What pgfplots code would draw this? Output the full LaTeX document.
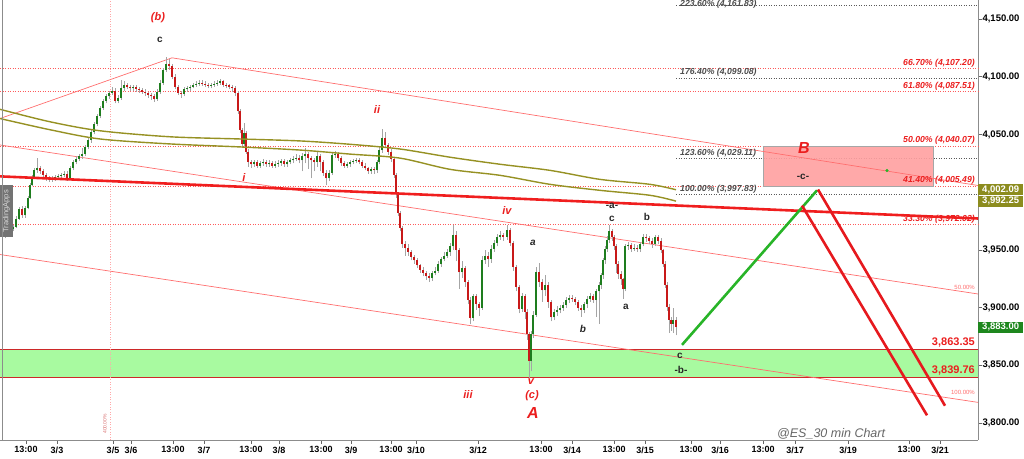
\documentclass[border=0pt]{standalone}
\usepackage{fontspec}
\setmainfont{Liberation Sans}
\usepackage{pgfplots}
\pgfplotsset{compat=1.18}
\usepackage{pgfplotstable}

\definecolor{cgreen}{RGB}{30,125,30}
\definecolor{cred}{RGB}{200,25,25}
\definecolor{wick}{RGB}{165,165,165}
\definecolor{olive1}{RGB}{150,145,35}
\definecolor{pinkline}{RGB}{255,110,110}
\definecolor{thickred}{RGB}{240,30,30}
\definecolor{fibred}{RGB}{255,90,90}
\definecolor{fibgray}{RGB}{90,90,90}
\definecolor{bandgreen}{RGB}{168,250,160}
\definecolor{bandred}{RGB}{205,40,40}
\definecolor{rectpink}{RGB}{255,160,160}
\definecolor{projgreen}{RGB}{40,180,40}
\definecolor{projred}{RGB}{230,25,30}
\definecolor{labelred}{RGB}{235,30,30}
\definecolor{olivebox}{RGB}{140,140,30}
\definecolor{greenbox}{RGB}{30,135,30}

\pgfplotstableread{
x o h l c
5 3963 3968 3960 3966
9 3966 3971 3964 3968.5
13 3968.5 3972 3966 3970
16 3970 3979 3969 3977
19 3977 3987 3976 3985
22 3985 3988 3978 3980
25 3980 3988 3978 3986
28 3986 3997 3985 3995
30 3995 4008 3994 4006
32 4006 4015 4005 4013
34 4013 4021 4012 4019
37 4019 4030 4017 4021
40 4021 4023 4016 4018
43 4018 4020 4013 4015
46 4015 4017 4010 4012
49 4012 4014 4009 4011
52 4011 4014 4009 4012
55 4012 4015 4010 4013
58 4013 4016 4011 4014
61 4014 4017 4012 4015
64 4015 4018 4013 4016
67 4016 4018 4010 4012
70 4012 4023 4011 4021
73 4021 4028 4019 4026
76 4026 4031 4024 4029
79 4029 4033 4027 4031
82 4031 4038 4029 4033
85 4033 4041 4031 4039
88 4039 4047 4037 4045
91 4045 4054 4043 4052
94 4052 4061 4050 4059
97 4059 4068 4057 4066
100 4066 4075 4064 4073
103 4073 4081 4071 4079
106 4079 4085 4077 4083
109 4083 4088 4081 4086
112 4086 4091 4084 4088
115 4088 4090 4077 4079
118 4079 4084 4077 4082
121 4082 4097 4080 4090
124 4090 4096 4088 4093
127 4093 4095 4089 4091
130 4091 4093 4088 4090
133 4090 4093 4088 4091
136 4091 4093 4087 4089.5
139 4089.5 4091 4086 4088.5
142 4088.5 4090 4085 4087
145 4087 4089 4083 4085.5
148 4085.5 4087 4082 4084.5
151 4084.5 4086 4080 4083
154 4083 4085 4078 4080.5
157 4080.5 4089 4079 4087
160 4087 4097 4085 4095
163 4095 4108 4093 4106
166 4106 4117 4104 4111
169 4111 4115 4106 4109
172 4109 4111 4098 4100
175 4100 4102 4089 4091
178 4091 4093 4084 4086
181 4086 4088 4082 4085
184 4085 4091 4083 4089
187 4089 4092 4087 4090
190 4090 4093 4088 4091.5
193 4091.5 4095 4090 4093
196 4093 4096 4091 4094
199 4094 4097 4092 4095
202 4095 4097 4092 4094
205 4094 4096 4091 4093
208 4093 4095 4090 4092
211 4092 4095 4090 4093
214 4093 4096 4091 4094
217 4094 4097 4092 4095
220 4095 4098 4093 4096
223 4096 4097 4091 4093
226 4093 4095 4090 4092.5
229 4092.5 4094 4089 4091
232 4091 4093 4087 4090
235 4090 4092 4083 4086
238 4086 4088 4068 4070
240 4070 4072 4051 4054
242 4054 4056 4039 4042
244 4042 4060 4040 4051
246 4051 4053 4033 4035
248 4035 4037 4022 4026
251 4026 4028 4021 4024
254 4024 4028 4022 4026
257 4026 4028 4021 4023
260 4023 4027 4021 4025
263 4025 4029 4023 4026.5
266 4026.5 4028 4022 4024
269 4024 4028 4022 4025.5
272 4025.5 4027 4021 4023
275 4023 4027 4021 4024.5
278 4024.5 4028 4022 4025.5
281 4025.5 4029 4023 4027
284 4027 4029 4022 4024
287 4024 4028 4022 4026
290 4026 4030 4024 4027.5
293 4027.5 4031 4025 4029
296 4029 4033 4027 4030
299 4030 4032 4025 4027.5
302 4027.5 4034 4018 4031
305 4031 4038 4025 4033
308 4033 4035 4020 4029.5
311 4029.5 4031 4012 4027.5
314 4027.5 4030 4018 4026
317 4026 4036 4022 4031
320 4031 4033 4018 4026
323 4026 4028 4014 4017
326 4017 4019 4006 4012
329 4012 4019 4010 4017
332 4017 4034 4015 4032
335 4032 4036 4030 4033.5
338 4033.5 4035 4027 4029.5
341 4029.5 4031 4023 4025
344 4025 4027 4021 4023
347 4023 4026 4021 4024.5
350 4024.5 4028 4022 4026
353 4026 4029 4024 4027
356 4027 4030 4025 4028
359 4028 4029.5 4024 4026
362 4026 4027.5 4021 4023
365 4023 4025 4019 4021
368 4021 4022 4016 4018
371 4018 4022 4016 4020
374 4020 4022 4016 4019
377 4019 4028 4017 4026
379 4026 4039 4024 4036.5
382 4036.5 4055 4034 4047
385 4047 4052 4039 4041
388 4041 4043 4032 4035
391 4035 4037 4026 4028.5
394 4028.5 4030 4012 4015
396 4015 4017 3995 3998
398 3998 4000 3979 3982
400 3982 3984 3966 3969
402 3969 3971 3952 3955
405 3955 3958 3945 3952
408 3952 3955 3945 3948.5
411 3948.5 3950 3941 3944
414 3944 3946 3938 3941
417 3941 3943 3934 3936.5
420 3936.5 3938 3930 3933
423 3933 3935 3927 3930
426 3930 3932 3924 3927
429 3927 3930 3922 3925.5
432 3925.5 3932 3923 3930
435 3930 3935 3928 3932
438 3932 3940 3930 3937.5
441 3937.5 3944 3935 3942
444 3942 3948 3940 3945
447 3945 3951 3943 3948
450 3948 3956 3945 3953
453 3953 3972 3950 3963
456 3963 3966 3940 3950
459 3950 3952 3916 3930.5
462 3930.5 3940 3926 3934
465 3934 3936 3918 3922
468 3922 3924 3903 3907
470 3907 3909 3885.5 3891
473 3891 3912 3888 3910
476 3910 3912 3898 3903
479 3903 3905 3893 3900
482 3900 3945 3898 3941
485 3941 3950 3938 3945
488 3945 3948 3935 3942
491 3942 3954 3939 3951
494 3951 3959 3948 3956
497 3956 3964 3953 3961.5
500 3961.5 3966 3959 3963
503 3963 3965 3958 3961.5
507 3961.5 3972 3959 3967.5
510 3967.5 3969 3953 3956
513 3956 3958 3932 3935
516 3935 3937 3914 3918
519 3918 3920 3895 3899
522 3899 3913 3896 3910
525 3910 3912 3890 3896.5
527 3896.5 3899 3872 3877
529 3877 3879 3839 3854
531 3854 3880 3845 3877
533 3877 3897 3874 3894
536 3894 3935 3892 3930.5
539 3930.5 3939 3918 3922
542 3922 3925 3905 3915
545 3915 3928 3910 3919.5
548 3919.5 3922 3900 3905
551 3905 3907 3888 3891.5
554 3891.5 3899 3889 3896.5
557 3896.5 3901 3893 3898
560 3898 3902 3895 3899.5
563 3899.5 3905 3897 3902.5
566 3902.5 3909 3900 3906.5
569 3906.5 3911 3904 3908.5
572 3908.5 3911 3905 3907.5
575 3907.5 3909 3902 3905
578 3905 3907 3897 3900
581 3900 3902 3892 3898
584 3898 3905 3895 3903
587 3903 3910 3900 3907.5
590 3907.5 3913 3905 3910
593 3910 3912 3904 3906.5
596 3906.5 3916 3892 3914
599 3914 3922 3886 3919.5
601 3919.5 3930 3916 3928
603 3928 3943 3925 3941
605 3941 3953 3938 3950.5
607 3950.5 3962 3948 3959
609 3959 3972 3956 3966.5
612 3966.5 3968 3958 3961.5
614 3961.5 3963 3950 3953
616 3953 3955 3930 3937.5
618 3937.5 3940 3925 3929
621 3929 3932 3920 3924.5
623 3924.5 3926 3907.5 3916
625 3916 3955 3914 3953
628 3953 3957 3950 3954.5
631 3954.5 3956 3948 3950.5
634 3950.5 3955 3949 3952
637 3952 3954 3948 3950.5
640 3950.5 3957 3948 3955
643 3955 3964 3953 3961.5
646 3961.5 3964 3957 3960
649 3960 3962 3955 3958
652 3958 3960 3952 3955
655 3955 3963 3953 3961
658 3961 3962.5 3955 3958
661 3958 3960 3947 3949.5
663 3949.5 3951 3935 3937.5
665 3937.5 3940 3917 3920
667 3920 3922 3897 3900.5
669 3900.5 3903 3878 3889.5
671 3889.5 3892 3880 3886
673 3886 3900 3878 3889.5
676 3889.5 3892 3876 3883
}\candles

\begin{document}
\begin{tikzpicture}
\useasboundingbox (0,-18pt) rectangle (1024pt,440pt);
\begin{axis}[
  at={(0,0)}, anchor=south west,
  scale only axis, width=978pt, height=440pt,
  xmin=0, xmax=978,
  ymin=3785.3, ymax=4166.5,
  axis x line*=bottom, axis y line*=right,
  axis line style={draw=black!45, line width=0.8pt},
  clip=false,
  xtick={26,57,113,131,173,204,251,279,321,351,391,416,478,541,572,614,645,691,720,763,795,848,909,940},
  xticklabels={13:00,3/3,3/5,3/6,13:00,3/7,13:00,3/8,13:00,3/9,13:00,3/10,3/12,13:00,3/14,13:00,3/15,13:00,3/16,13:00,3/17,3/19,13:00,3/21},
  ytick={3800,3850,3900,3950,4050,4100,4150},
  yticklabels={{3,800.00},{3,850.00},{3,900.00},{3,950.00},{4,050.00},{4,100.00},{4,150.00}},
  yminorticks=false, xminorticks=false,
  tick align=outside, major tick length=4pt,
  tick style={black!60, line width=0.6pt},
  xticklabel style={font=\bfseries\fontsize{9}{10}\selectfont, yshift=1pt},
  yticklabel style={font=\bfseries\fontsize{9.5}{10}\selectfont, xshift=-3pt},
]
% green support band
\addplot[fill=bandgreen, draw=none] coordinates {(0,3839.76) (978,3839.76) (978,3863.35) (0,3863.35)} -- cycle;
\addplot[bandred, line width=1pt] coordinates {(0,3863.35) (978,3863.35)};
\addplot[bandred, line width=1pt] coordinates {(0,3839.76) (978,3839.76)};
% vertical dotted
\addplot[pinkline!60, dash pattern=on 1pt off 1.5pt, line width=0.5pt] coordinates {(110,3785.3) (110,4166.5)};
% red fib retracements
\addplot[fibred, dash pattern=on 1pt off 1.5pt, line width=0.6pt] coordinates {(0,4107.20) (978,4107.20)};
\addplot[fibred, dash pattern=on 1pt off 1.5pt, line width=0.6pt] coordinates {(0,4087.51) (978,4087.51)};
\addplot[fibred, dash pattern=on 1pt off 1.5pt, line width=0.6pt] coordinates {(0,4040.07) (978,4040.07)};
\addplot[fibred, dash pattern=on 1pt off 1.5pt, line width=0.6pt] coordinates {(0,4005.49) (978,4005.49)};
\addplot[fibred, dash pattern=on 1pt off 1.5pt, line width=0.6pt] coordinates {(0,3972.02) (978,3972.02)};
% grey fib extensions
\addplot[fibgray, dash pattern=on 1pt off 1.5pt, line width=0.6pt] coordinates {(676,4161.83) (978,4161.83)};
\addplot[fibgray, dash pattern=on 1pt off 1.5pt, line width=0.6pt] coordinates {(676,4099.08) (978,4099.08)};
\addplot[fibgray, dash pattern=on 1pt off 1.5pt, line width=0.6pt] coordinates {(676,4029.11) (978,4029.11)};
\addplot[fibgray, dash pattern=on 1pt off 1.5pt, line width=0.6pt] coordinates {(676,3997.83) (978,3997.83)};
% B zone rectangle
\addplot[fill=rectpink, fill opacity=0.9, draw=black!35, line width=0.5pt] coordinates {(763,4005.49) (933,4005.49) (933,4040.07) (763,4040.07)} -- cycle;
% channel lines
\addplot[pinkline, line width=0.7pt] coordinates {(0,4063.8) (172,4116.4) (978,4005.8)};
\addplot[pinkline, line width=0.7pt] coordinates {(0,4040.9) (978,3911.8)};
\addplot[pinkline, line width=0.7pt] coordinates {(0,3946.0) (978,3817.9)};
% candles: wicks, up bodies, down bodies
\addplot[draw=none, mark=none,
  error bars/y dir=plus, error bars/y explicit, error bars/error mark=none,
  error bars/error bar style={draw=wick, line width=0.6pt}]
  table[x=x, y=l, y error plus expr=\thisrow{h}-\thisrow{l}] {\candles};
\addplot[draw=none, mark=none,
  restrict expr to domain={\thisrow{c}-\thisrow{o}}{0.01:1000},
  error bars/y dir=plus, error bars/y explicit, error bars/error mark=none,
  error bars/error bar style={draw=cgreen, line width=2.2pt}]
  table[x=x, y=o, y error plus expr=\thisrow{c}-\thisrow{o}] {\candles};
\addplot[draw=none, mark=none,
  restrict expr to domain={\thisrow{o}-\thisrow{c}}{0.01:1000},
  error bars/y dir=plus, error bars/y explicit, error bars/error mark=none,
  error bars/error bar style={draw=cred, line width=2.2pt}]
  table[x=x, y=c, y error plus expr=\thisrow{o}-\thisrow{c}] {\candles};
% moving averages
\addplot[olive1, line width=1.4pt, smooth] coordinates {(0,4071.8) (50,4061) (100,4053.2) (170,4048) (240,4046.1) (300,4044.4) (350,4041.5) (400,4037.4) (450,4030.3) (500,4024.2) (550,4018.9) (600,4011.1) (650,4006.8) (676,4002.09)};
\addplot[olive1, line width=1.4pt, smooth] coordinates {(0,4063.8) (50,4054.1) (100,4046.1) (170,4041.8) (240,4039.2) (300,4036.5) (350,4033) (400,4029.5) (450,4019.8) (500,4014.6) (550,4006.8) (600,4001.6) (650,3997.3) (676,3992.25)};
% thick red trend line
\addplot[thickred, line width=2.6pt] coordinates {(0,4013.7) (978,3977.2)};
% projections
\addplot[projgreen, line width=2.6pt] coordinates {(682,3867.7) (817,4001.6)};
\addplot[projred, line width=2.6pt] coordinates {(802,3988.4) (927,3806.7)};
\addplot[projred, line width=2.6pt] coordinates {(818,4002.3) (945,3815.0)};
\addplot[only marks, mark=*, mark size=1.3pt, color=projgreen] coordinates {(887,4018.8)};

% logo
\fill[black!55] (axis cs:0,4006) rectangle (axis cs:13,3961);
\node[rotate=90, text=white!85!black, font=\fontsize{7.5}{8}\selectfont, inner sep=0pt] at (axis cs:6.5,3983.5) {TradingApps};
\draw[black!45, line width=0.8pt] (rel axis cs:0.002,0) -- (rel axis cs:0.002,1);
\node[rotate=90, text=pinkline!70!gray, font=\fontsize{5}{6}\selectfont, inner sep=0pt, anchor=east] at (axis cs:105,3808) {400.00\%};

% fib labels
\tikzset{fibg/.style={font=\bfseries\itshape\fontsize{8.7}{10}\selectfont, text=black!70, anchor=base west, inner sep=0pt, yshift=3pt},
         fibr/.style={font=\bfseries\itshape\fontsize{8.7}{10}\selectfont, text=labelred, anchor=base east, inner sep=0pt, yshift=3pt}}
\node[font=\bfseries\itshape\fontsize{8.7}{10}\selectfont, text=black!70, anchor=base west, inner sep=0pt, yshift=-1pt] at (axis cs:680,4161.83) {223.60\% (4,161.83)};
\node[fibg] at (axis cs:680,4099.08) {176.40\% (4,099.08)};
\node[fibg] at (axis cs:680,4029.11) {123.60\% (4,029.11)};
\node[fibg] at (axis cs:680,3997.83) {100.00\% (3,997.83)};
\node[fibr] at (axis cs:975,4107.20) {66.70\% (4,107.20)};
\node[fibr] at (axis cs:975,4087.51) {61.80\% (4,087.51)};
\node[fibr] at (axis cs:975,4040.07) {50.00\% (4,040.07)};
\node[fibr] at (axis cs:975,4005.49) {41.40\% (4,005.49)};
\node[fibr] at (axis cs:975,3972.02) {33.30\% (3,972.02)};
\node[font=\fontsize{6}{7}\selectfont, text=pinkline, anchor=east, inner sep=0pt] at (axis cs:975,3917.7) {50.00\%};
\node[font=\fontsize{6}{7}\selectfont, text=pinkline, anchor=east, inner sep=0pt] at (axis cs:975,3826.5) {100.00\%};
\node[font=\bfseries\fontsize{11}{12}\selectfont, text=labelred, anchor=east, inner sep=0pt] at (axis cs:975,3869.4) {3,863.35};
\node[font=\bfseries\fontsize{11}{12}\selectfont, text=labelred, anchor=east, inner sep=0pt] at (axis cs:975,3845.8) {3,839.76};

% wave labels
\tikzset{wr/.style={font=\bfseries\itshape\fontsize{11}{12}\selectfont, text=labelred, inner sep=0pt},
         wk/.style={font=\bfseries\fontsize{10}{12}\selectfont, text=black!85, inner sep=0pt}}
\node[wr] at (axis cs:158,4151.6) {(b)};
\node[wk] at (axis cs:160,4131.7) {c};
\node[wr] at (axis cs:244,4012.8) {i};
\node[wr] at (axis cs:377,4071.8) {ii};
\node[wr] at (axis cs:468,3824.9) {iii};
\node[wr] at (axis cs:507,3984.0) {iv};
\node[wr] at (axis cs:531,3835.8) {v};
\node[wr] at (axis cs:532,3824.1) {(c)};
\node[wr, font=\bfseries\itshape\fontsize{16}{18}\selectfont] at (axis cs:533,3809.1) {A};
\node[wr, font=\bfseries\itshape\fontsize{16}{18}\selectfont] at (axis cs:804,4038.3) {B};
\node[wk, font=\bfseries\itshape\fontsize{10}{12}\selectfont] at (axis cs:533,3956.4) {a};
\node[wk, font=\bfseries\itshape\fontsize{10}{12}\selectfont] at (axis cs:583,3881.2) {b};
\node[wk] at (axis cs:626,3900.7) {a};
\node[wk] at (axis cs:612,3988.4) {-a-};
\node[wk] at (axis cs:612,3977.0) {c};
\node[wk] at (axis cs:647,3978.7) {b};
\node[wk] at (axis cs:680,3858.4) {c};
\node[wk] at (axis cs:681,3845.8) {-b-};
\node[wk] at (axis cs:803,4013.7) {-c-};
\node[font=\itshape\fontsize{12.5}{14}\selectfont, text=black!60, anchor=west, inner sep=0pt] at (axis cs:777,3791.0) {@ES\_30 min Chart};

% right-side price boxes
\tikzset{pbox/.style={anchor=west, inner sep=0pt, minimum width=45pt, minimum height=11pt, text=white, font=\bfseries\fontsize{9.5}{10}\selectfont}}
\node[pbox, fill=olivebox] at (axis cs:978,4002.09) {4,002.09};
\node[pbox, fill=olivebox] at (axis cs:978,3992.25) {3,992.25};
\node[pbox, fill=greenbox] at (axis cs:978,3883.00) {3,883.00};
\end{axis}
\end{tikzpicture}
\end{document}
